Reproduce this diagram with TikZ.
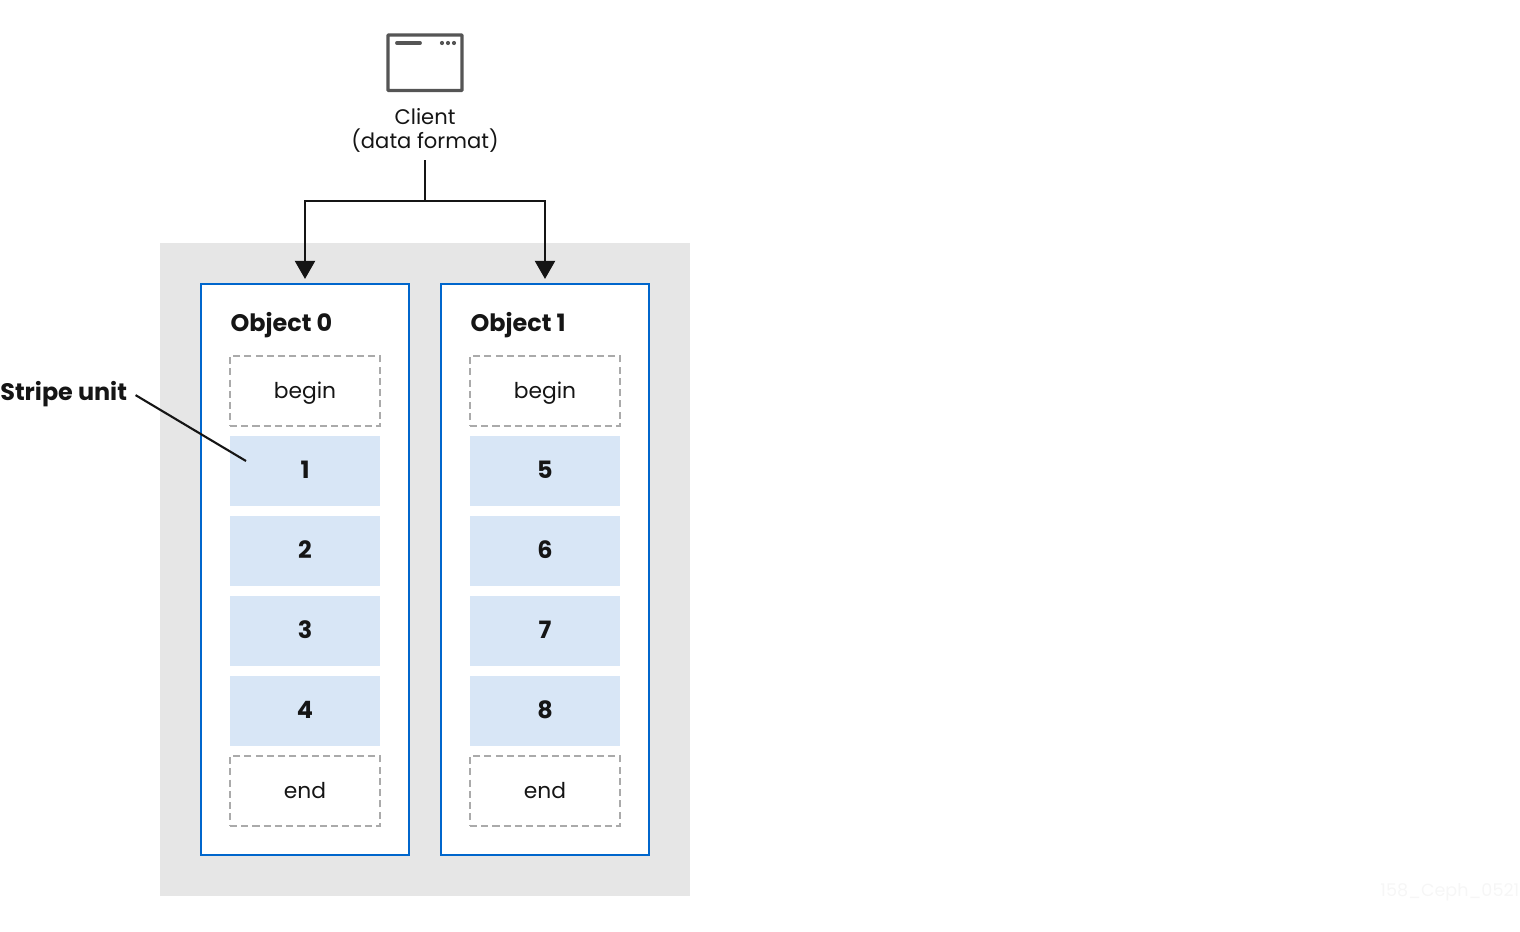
\documentclass[tikz,border=0pt]{standalone}
\usepackage{fontspec}
\setmainfont{Poppins}
\usepackage{tikz}
\usetikzlibrary{arrows.meta}

\definecolor{panelgray}{HTML}{E6E6E6}
\definecolor{objblue}{HTML}{0066CC}
\definecolor{unitblue}{HTML}{D8E6F6}
\definecolor{dashgray}{HTML}{AAAAAA}
\definecolor{icongray}{HTML}{555555}
\definecolor{inkblack}{HTML}{151515}
\definecolor{markgray}{HTML}{F6F6F6}

\tikzset{
	txt/.style={font=\fontsize{6.2}{6.83}\selectfont,text=inkblack,align=center},
	boldtxt/.style={txt,font=\fontsize{6.8}{6.83}\selectfont\bfseries},
	objbox/.style={draw=objblue,line width=0.6pt,fill=white,minimum width=2.08cm,minimum height=5.71cm,inner sep=0},
	unitbox/.style={boldtxt,fill=unitblue,minimum width=1.5cm,minimum height=0.7cm,inner sep=0,text height=0.2cm,text depth=0.06cm},
	capbox/.style={txt,draw=dashgray,line width=0.57pt,dash pattern=on 2pt off 1.2pt,minimum width=1.5cm,minimum height=0.7cm,inner sep=0,text height=0.2cm,text depth=0.06cm},
	link/.style={draw=inkblack,line width=0.6pt},
	tip/.style={-{Triangle[length=0.18cm,width=0.2cm]},shorten >=0.04cm}
}

\begin{document}
\begin{tikzpicture}
	\useasboundingbox (0,0) rectangle (15.2,9.31);

	%Panel
	\fill[panelgray] (1.6,0.355) rectangle (6.9,6.88);
	\node[objbox] (obj0) at (3.05,3.615) {};
	\node[objbox] (obj1) at (5.45,3.615) {};
	\node[boldtxt,anchor=west,inner sep=0] (title0) at (2.3,6.06) {Object 0};
	\node[boldtxt,anchor=west,inner sep=0] (title1) at (4.7,6.06) {Object 1};

	%Client
	\draw[icongray,line width=0.95pt,rounded corners=0.2pt] (3.88,8.405) rectangle (4.62,8.96);
	\draw[icongray,line width=1.1pt,line cap=round] (3.97,8.88) -- (4.2,8.88);
	\foreach \x in {4.42,4.48,4.54}
		\fill[icongray] (\x,8.88) circle (0.021);
	\node[txt,font=\fontsize{6}{6.83}\selectfont,inner sep=0,outer sep=0,minimum height=0.52cm] (client) at (4.25,8.01) {Client\\(data format)};

	%Stripe units
	\foreach \col/\x/\a/\b/\c/\d in {0/3.05/1/2/3/4, 1/5.45/5/6/7/8} {
		\node[capbox] (begin\col) at (\x,5.4) {begin};
		\node[unitbox] (unit\a) at (\x,4.6) {\a};
		\node[unitbox] (unit\b) at (\x,3.8) {\b};
		\node[unitbox] (unit\c) at (\x,3.0) {\c};
		\node[unitbox] (unit\d) at (\x,2.2) {\d};
		\node[capbox] (end\col) at (\x,1.4) {end};
	}

	%Connectors
	\coordinate (split) at (4.25,7.3);
	\draw[link] (client.south) ++(0,-0.04) -- (split);
	\draw[link,tip] (split) -| (obj0.north);
	\draw[link,tip] (split) -| (obj1.north);

	%Leader
	\node[boldtxt,anchor=east,inner sep=0,outer sep=0] (stripe) at (1.27,5.37) {Stripe unit};
	\coordinate (stripeend) at (2.46,4.7);
	\draw[link,shorten <=0.1cm] (stripe.east) ++(0,0.04) -- (stripeend);

	\node[font=\fontsize{5}{6}\selectfont,text=markgray,anchor=east,inner sep=0] (mark) at (15.2,0.39) {158\_Ceph\_0521};
\end{tikzpicture}
\end{document}
